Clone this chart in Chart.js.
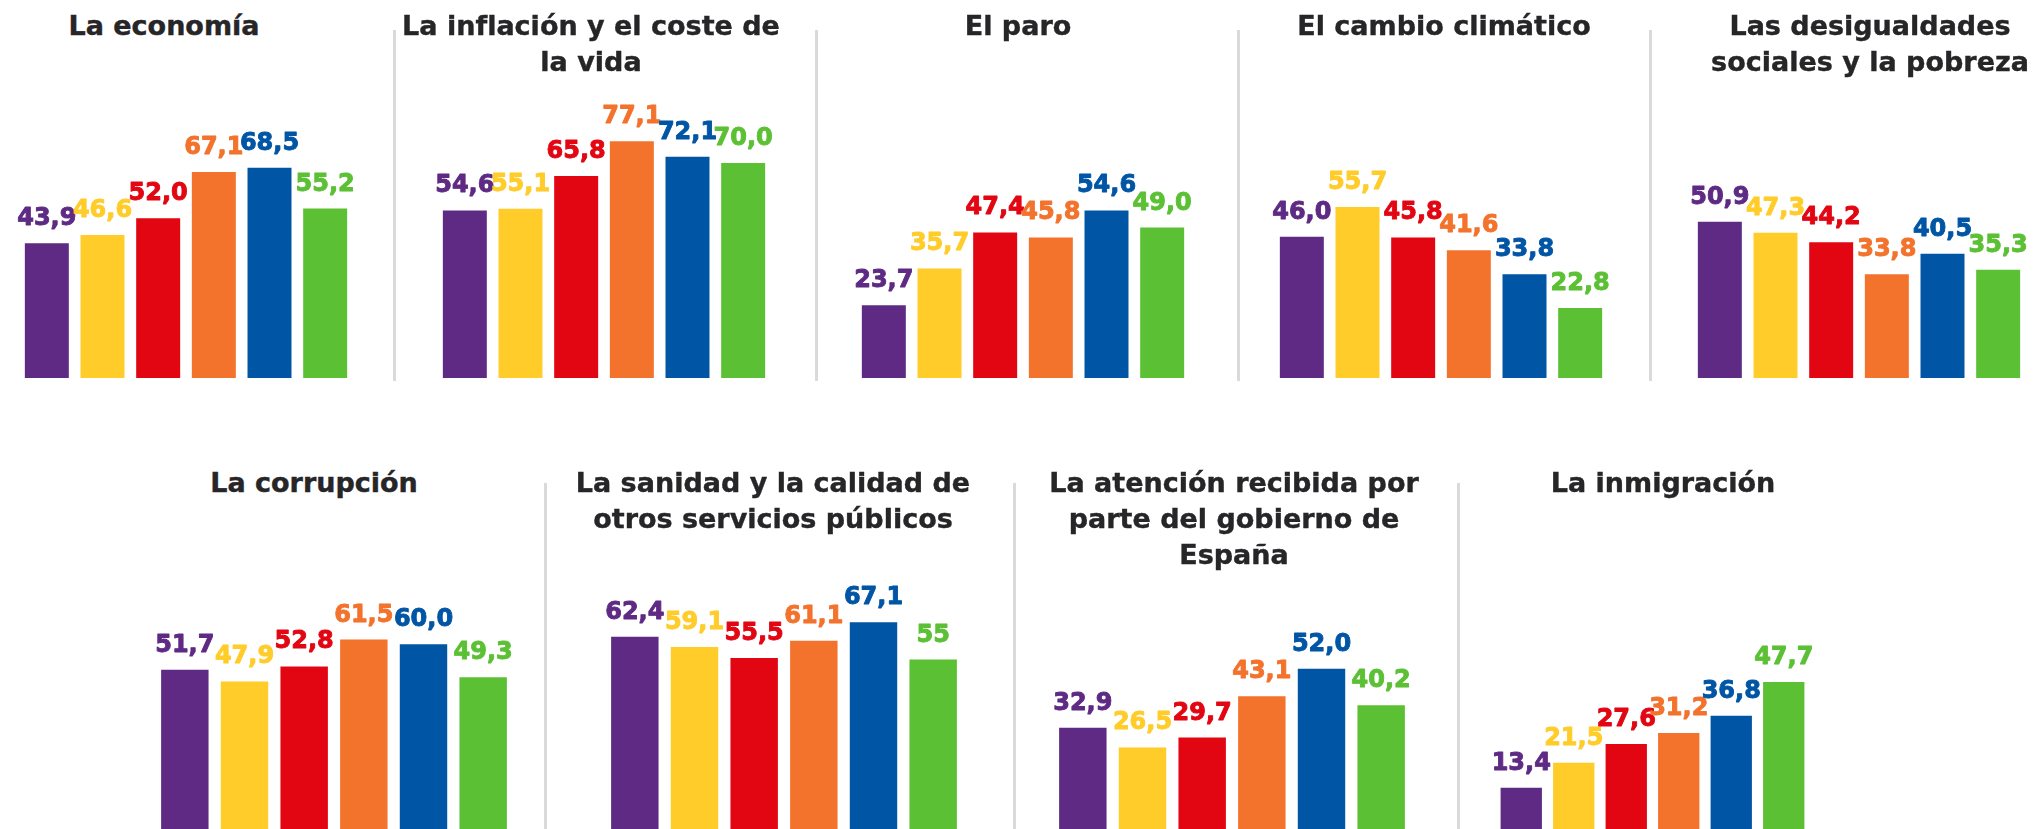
<!DOCTYPE html>
<html lang="es">
<head>
<meta charset="utf-8">
<title>Preocupaciones</title>
<script src="https://cdn.jsdelivr.net/npm/chart.js@4.4.1/dist/chart.umd.min.js"></script>
<style>
  html, body { margin: 0; padding: 0; background: #fff; overflow: hidden; }
  #lienzo { position: relative; width: 2034px; height: 829px; }
  .titulo {
    position: absolute; width: 520px; text-align: center; white-space: nowrap;
    font-family: "DejaVu Sans", sans-serif; font-weight: 700; font-size: 27px;
    line-height: 36px; color: #262527; -webkit-text-stroke: 0.4px #262527;
  }
  .sep { position: absolute; width: 3px; background: #dadada; }
  canvas { position: absolute; }
</style>
</head>
<body>
<div id="lienzo"></div>
<script>
// Datos (valores tal y como aparecen en las etiquetas)
const grupos = ['Grupo 1', 'Grupo 2', 'Grupo 3', 'Grupo 4', 'Grupo 5', 'Grupo 6'];
const colores = ['#5e2a84', '#ffcc29', '#e20613', '#f3722c', '#0055a5', '#5cc035'];

const economia    = ['43,9', '46,6', '52,0', '67,1', '68,5', '55,2'];
const inflacion   = ['54,6', '55,1', '65,8', '77,1', '72,1', '70,0'];
const paro        = ['23,7', '35,7', '47,4', '45,8', '54,6', '49,0'];
const clima       = ['46,0', '55,7', '45,8', '41,6', '33,8', '22,8'];
const desigualdad = ['50,9', '47,3', '44,2', '33,8', '40,5', '35,3'];
const corrupcion  = ['51,7', '47,9', '52,8', '61,5', '60,0', '49,3'];
const sanidad     = ['62,4', '59,1', '55,5', '61,1', '67,1', '55'];
const atencion    = ['32,9', '26,5', '29,7', '43,1', '52,0', '40,2'];
const inmigracion = ['13,4', '21,5', '27,6', '31,2', '36,8', '47,7'];

const titulos = [
  'La economía',
  'La inflación y el coste de<br>la vida',
  'El paro',
  'El cambio climático',
  'Las desigualdades<br>sociales y la pobreza',
  'La corrupción',
  'La sanidad y la calidad de<br>otros servicios públicos',
  'La atención recibida por<br>parte del gobierno de<br>España',
  'La inmigración'
];
const series = [economia, inflacion, paro, clima, desigualdad, corrupcion, sanidad, atencion, inmigracion];

// Maquetación de cada panel (zona de barras y título)
const PAD_X = 24, PAD_TOP = 60;
const paneles = [
  { x: 19,   base: 378, ancho: 334, alto: 307, barra: 0.79,  tx: 164,  ty: 8 },
  { x: 437,  base: 378, ancho: 334, alto: 307, barra: 0.79,  tx: 591,  ty: 8 },
  { x: 856,  base: 378, ancho: 334, alto: 307, barra: 0.79,  tx: 1018, ty: 8 },
  { x: 1274, base: 378, ancho: 334, alto: 307, barra: 0.79,  tx: 1444, ty: 8 },
  { x: 1692, base: 378, ancho: 334, alto: 307, barra: 0.79,  tx: 1870, ty: 8 },
  { x: 155,  base: 829, ancho: 358, alto: 308, barra: 0.795, tx: 314,  ty: 465 },
  { x: 605,  base: 829, ancho: 358, alto: 308, barra: 0.795, tx: 773,  ty: 465 },
  { x: 1053, base: 829, ancho: 358, alto: 308, barra: 0.795, tx: 1234, ty: 465 },
  { x: 1495, base: 829, ancho: 315, alto: 308, barra: 0.787, tx: 1663, ty: 465 }
];
const separadores = [
  { x: 394.5, y0: 30, y1: 381 }, { x: 816, y0: 30, y1: 381 },
  { x: 1238.3, y0: 30, y1: 381 }, { x: 1650, y0: 30, y1: 381 },
  { x: 545.5, y0: 483, y1: 829 }, { x: 1014, y0: 483, y1: 829 },
  { x: 1458, y0: 483, y1: 829 }
];

const lienzo = document.getElementById('lienzo');

separadores.forEach(s => {
  const d = document.createElement('div');
  d.className = 'sep';
  d.style.left = (s.x - 1.5) + 'px';
  d.style.top = s.y0 + 'px';
  d.style.height = (s.y1 - s.y0) + 'px';
  lienzo.appendChild(d);
});

// Etiquetas de valor encima de cada barra, del color de la barra
const etiquetas = {
  id: 'etiquetas',
  afterDatasetsDraw(chart) {
    const ctx = chart.ctx;
    const textos = chart.data.datasets[0].textos;
    ctx.save();
    ctx.font = '700 24px "DejaVu Sans", sans-serif';
    ctx.textAlign = 'center';
    ctx.textBaseline = 'alphabetic';
    ctx.lineWidth = 0.9;
    ctx.lineJoin = 'round';
    chart.getDatasetMeta(0).data.forEach((bar, i) => {
      ctx.fillStyle = colores[i];
      ctx.strokeStyle = colores[i];
      ctx.fillText(textos[i], bar.x, bar.y - 18);
      ctx.strokeText(textos[i], bar.x, bar.y - 18);
    });
    ctx.restore();
  }
};

paneles.forEach((p, k) => {
  const t = document.createElement('div');
  t.className = 'titulo';
  t.style.left = (p.tx - 260) + 'px';
  t.style.top = p.ty + 'px';
  t.innerHTML = titulos[k];
  lienzo.appendChild(t);

  const cv = document.createElement('canvas');
  const w = p.ancho + 2 * PAD_X, h = p.alto + PAD_TOP;
  cv.width = w; cv.height = h;
  cv.style.width = w + 'px'; cv.style.height = h + 'px';
  cv.style.left = (p.x - PAD_X) + 'px';
  cv.style.top = (p.base - h) + 'px';
  lienzo.appendChild(cv);

  const textos = series[k];
  new Chart(cv, {
    type: 'bar',
    data: {
      labels: grupos,
      datasets: [{
        data: textos.map(s => parseFloat(s.replace(',', '.'))),
        textos: textos,
        backgroundColor: colores,
        borderWidth: 0,
        barPercentage: p.barra,
        categoryPercentage: 1
      }]
    },
    options: {
      responsive: false,
      animation: false,
      devicePixelRatio: 1,
      layout: { padding: { left: PAD_X, right: PAD_X, top: PAD_TOP, bottom: 0 } },
      plugins: { legend: { display: false }, tooltip: { enabled: false } },
      scales: {
        x: { display: false },
        y: { display: false, min: 0, max: 100 }
      }
    },
    plugins: [etiquetas]
  });
});
</script>
</body>
</html>
